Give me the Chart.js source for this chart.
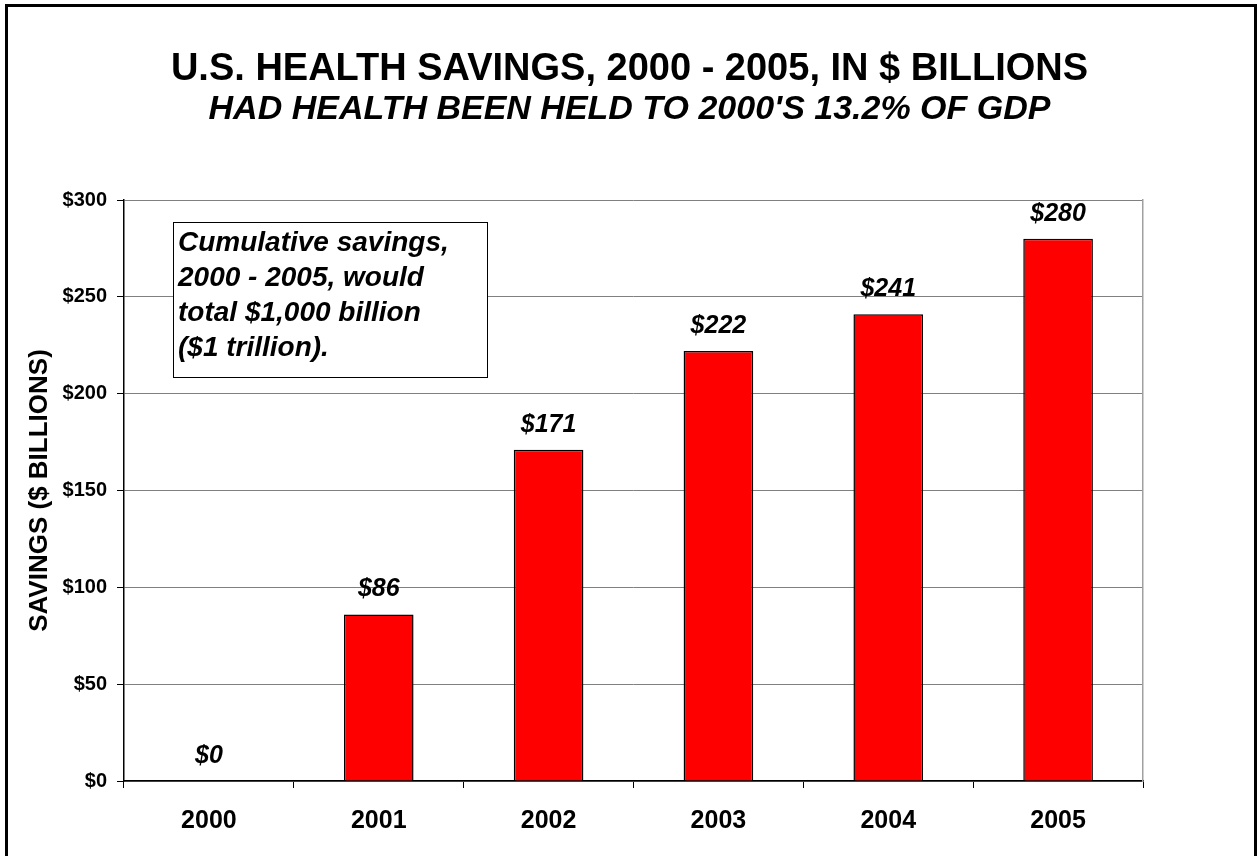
<!DOCTYPE html>
<html>
<head>
<meta charset="utf-8">
<script src="https://cdn.jsdelivr.net/npm/chart.js@4"></script>
<style>
  body { margin: 0; background: #fff; }
  #wrap { position: relative; width: 1259px; height: 856px; overflow: hidden; }
  #frame { position: absolute; left: 5px; top: 4px; width: 1246px; height: 900px; border: 3px solid #000; pointer-events: none; }
</style>
</head>
<body>
<div id="wrap">
  <canvas id="savingsChart" width="1259" height="856"></canvas>
  <div id="frame"></div>
</div>
<script>
let years = ["2000", "2001", "2002", "2003", "2004", "2005"];
let savings = [0, 86, 171, 222, 241, 280];
let noteLines = [
    "Cumulative savings,",
    "2000 - 2005, would",
    "total $1,000 billion",
    "($1 trillion)."
];

// value labels above each bar
const barLabels = {
    id: "barLabels",
    afterDatasetsDraw(chart) {
        let ctx = chart.ctx;
        let meta = chart.getDatasetMeta(0);
        ctx.save();
        ctx.font = "italic bold 25px Arial";
        ctx.fillStyle = "#000";
        ctx.textAlign = "center";
        ctx.textBaseline = "alphabetic";
        meta.data.forEach((bar, i) => {
            ctx.fillText("$" + savings[i], bar.x, bar.y - 18);
        });
        ctx.restore();
    }
};

// text box in the upper left of the plot
const noteBox = {
    id: "noteBox",
    afterDraw(chart) {
        let ctx = chart.ctx;
        let x = 173, y = 222, w = 314, h = 155;
        ctx.save();
        ctx.fillStyle = "#fff";
        ctx.fillRect(x, y, w, h);
        ctx.strokeStyle = "#000";
        ctx.lineWidth = 1;
        ctx.strokeRect(x + 0.5, y + 0.5, w, h);
        ctx.font = "italic bold 28px Arial";
        ctx.fillStyle = "#000";
        ctx.textAlign = "left";
        ctx.textBaseline = "middle";
        noteLines.forEach((line, i) => {
            ctx.fillText(line, x + 5, y + 21 + i * 35);
        });
        ctx.restore();
    }
};

new Chart(document.getElementById("savingsChart"), {
    type: "bar",
    data: {
        labels: years,
        datasets: [{
            data: savings,
            backgroundColor: "#ff0000",
            borderColor: "#000",
            borderWidth: 1.5,
            barPercentage: 0.41,
            categoryPercentage: 1
        }]
    },
    options: {
        responsive: false,
        animation: false,
        layout: { padding: { top: 0, left: 0, right: 0, bottom: 0 } },
        plugins: {
            legend: { display: false },
            tooltip: { enabled: false },
            title: {
                display: true,
                text: "U.S. HEALTH SAVINGS, 2000 - 2005, IN $ BILLIONS",
                color: "#000",
                font: { family: "Arial", size: 38, weight: "bold", lineHeight: 1 },
                padding: { top: 51, bottom: 4 }
            },
            subtitle: {
                display: true,
                text: "HAD HEALTH BEEN HELD TO 2000'S 13.2% OF GDP",
                color: "#000",
                font: { family: "Arial", size: 34, weight: "bold", style: "italic", lineHeight: 1 },
                padding: { top: 0, bottom: 73 }
            }
        },
        scales: {
            x: {
                grid: { drawOnChartArea: false, offset: true, tickLength: 7, tickColor: "#000" },
                border: { color: "#000", width: 1.5 },
                ticks: { color: "#000", padding: 18, font: { family: "Arial", size: 25, weight: "bold" } },
                afterFit: s => { s.height = 75; }
            },
            y: {
                min: 0,
                max: 300,
                ticks: {
                    stepSize: 50,
                    color: "#000",
                    padding: 10,
                    font: { family: "Arial", size: 20, weight: "bold" },
                    callback: v => "$" + v
                },
                grid: { color: "#808080", tickLength: 7, tickColor: "#000" },
                border: { color: "#000", width: 1.5 },
                title: {
                    display: true,
                    text: "SAVINGS ($ BILLIONS)",
                    color: "#000",
                    font: { family: "Arial", size: 26, weight: "bold" },
                    padding: { top: 24, bottom: 0 }
                },
                afterFit: s => { s.width = 124; }
            },
            y2: {
                position: "right",
                min: 0,
                max: 300,
                grid: { drawOnChartArea: false, drawTicks: false },
                ticks: { display: false },
                border: { color: "#a0a0a0", width: 1.5 },
                afterFit: s => { s.width = 116; }
            }
        }
    },
    plugins: [barLabels, noteBox]
});
</script>
</body>
</html>
